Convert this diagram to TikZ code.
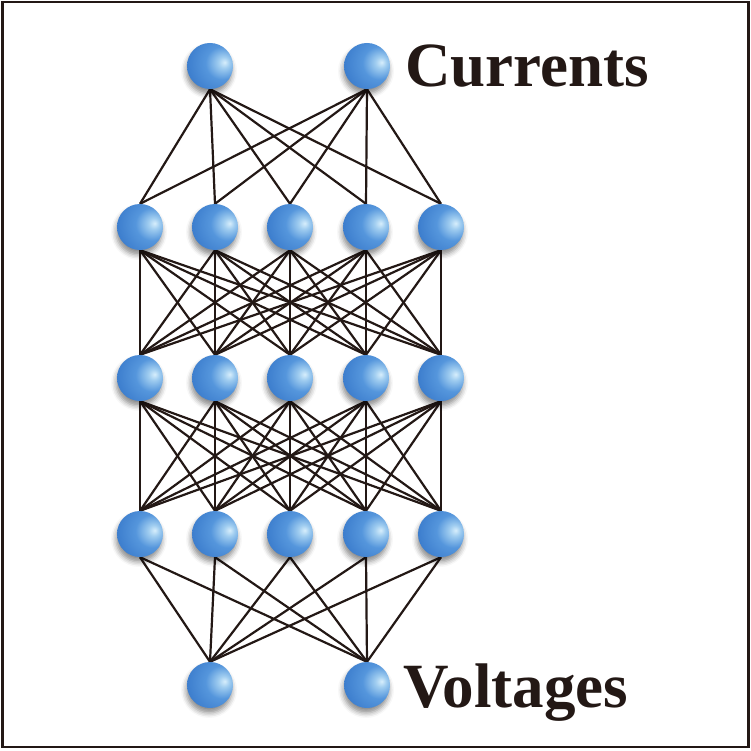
\documentclass[tikz,border=0pt]{standalone}
\usepackage{fontspec}
\setmainfont{Liberation Serif}
\usetikzlibrary{shadows.blur,backgrounds}
\definecolor{ink}{RGB}{35,24,21}
\pgfdeclareradialshading{sphereblue}{\pgfpoint{16bp}{4bp}}{%
  color(0bp)=({rgb,255:red,215;green,238;blue,252});
  color(6bp)=({rgb,255:red,160;green,205;blue,240});
  color(18bp)=({rgb,255:red,85;green,150;blue,220});
  color(36bp)=({rgb,255:red,60;green,125;blue,205});
  color(52bp)=({rgb,255:red,45;green,105;blue,185});
  color(64bp)=({rgb,255:red,32;green,82;blue,155});
  color(100bp)=({rgb,255:red,25;green,65;blue,130})}
\tikzset{
  ball/.style={circle, minimum size=46pt, inner sep=0pt, shading=sphereblue,
    blur shadow={shadow xshift=-1pt, shadow yshift=-5pt, shadow blur radius=5pt, shadow opacity=45}},
  wire/.style={draw=ink, line width=2.2pt},
  label/.style={inner sep=0pt, anchor=base west, font=\bfseries\fontsize{63pt}{63pt}\selectfont, text=ink}
}
\begin{document}
\begin{tikzpicture}[x=1pt,y=-1pt]
\useasboundingbox (0,0) rectangle (751,751);
\draw[ink, line width=2.5pt] (2.5,2) rectangle (748.5,747);
% nodes
\node[ball] (t1) at (210,66) {};
\node[ball] (t2) at (367,66) {};
\foreach \i/\x in {1/140,2/215,3/290,4/366,5/441}{
  \node[ball] (a\i) at (\x,227) {};
  \node[ball] (b\i) at (\x,378) {};
  \node[ball] (c\i) at (\x,534) {};
}
\node[ball] (v1) at (210,685) {};
\node[ball] (v2) at (367,685) {};
% connectors
\begin{pgfonlayer}{background}
\foreach \i in {1,...,5}{
  \foreach \t in {t1,t2}{ \draw[wire] (\t.south) -- (a\i.north); }
  \foreach \v in {v1,v2}{ \draw[wire] (c\i.south) -- (\v.north); }
  \foreach \j in {1,...,5}{
    \draw[wire] (a\i.south) -- (b\j.north);
    \draw[wire] (b\i.south) -- (c\j.north);
  }
}
\end{pgfonlayer}
\node[label] (cur) at (405,87) {Currents};
\node[label] (vol) at (403,707) {Voltages};
\end{tikzpicture}
\end{document}
